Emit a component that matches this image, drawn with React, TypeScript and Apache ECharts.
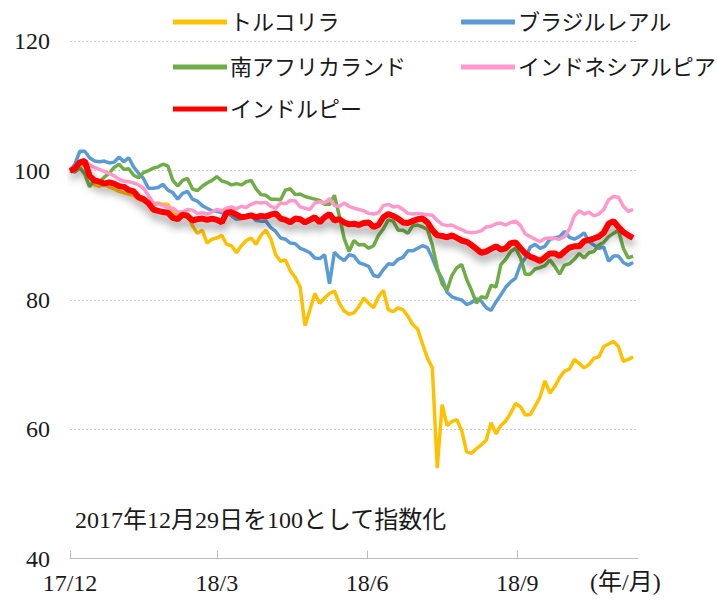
import React, { useEffect, useRef } from 'react';
import * as echarts from 'echarts';

// day offsets from 2017-12-29 (every 3 days)
const days = Array.from({ length: 116 }, (_, i) => i * 3);
const tickDays = [0, 90, 182, 274];
const tickLabels = ['17/12', '18/3', '18/6', '18/9'];

const seriesNames = ['トルコリラ', 'ブラジルレアル', '南アフリカランド', 'インドネシアルピア', 'インドルピー'];

const tryValues = [
  100, 100.3, 101.0, 100.8, 99.0, 97.8, 97.6, 97.9, 97.5, 97.2,
  96.8, 96.6, 96.4, 96.2, 95.6, 95.3, 95.0, 94.6, 95.0, 94.8,
  94.8, 93.4, 93.2, 93.6, 93.4, 91.5, 90.3, 90.8, 88.8, 89.4,
  89.6, 90.0, 88.6, 88.4, 87.3, 88.4, 89.2, 89.6, 88.6, 90.0,
  90.8, 89.5, 87.0, 86.0, 86.2, 84.5, 83.5, 82.0, 76.0, 78.5,
  81.0, 79.5, 80.3, 81.0, 81.4, 79.5, 78.3, 77.8, 78.0, 79.0,
  80.3, 79.5, 78.8, 80.5, 81.5, 78.5, 78.2, 78.8, 78.5, 77.5,
  76.2, 75.5, 73.2, 71.0, 69.5, 54.0, 63.8, 60.6, 61.2, 61.5,
  59.8, 56.5, 56.3, 57.0, 57.6, 58.3, 61.0, 59.3, 60.6, 61.3,
  62.5, 64.0, 63.5, 62.2, 62.3, 63.6, 65.0, 67.5, 65.6, 66.6,
  68.0, 69.0, 69.3, 70.8, 70.2, 69.5, 70.0, 71.0, 71.2, 72.8,
  73.2, 73.6, 72.8, 70.5, 70.8, 71.2,
];

const brlValues = [
  100, 101.0, 103.0, 103.0, 102.0, 101.5, 101.4, 101.5, 101.2, 101.3,
  102.1, 101.4, 102.0, 100.6, 99.6, 98.8, 97.3, 97.3, 97.4, 97.9,
  97.0, 96.6, 95.6, 96.5, 96.8, 95.6, 95.3, 94.6, 94.2, 93.8,
  93.7, 93.5, 93.6, 93.0, 92.5, 92.6, 93.1, 93.0, 92.3, 92.2,
  92.2, 91.2, 90.6, 89.6, 89.4, 88.8, 88.7, 88.0, 87.7, 87.3,
  86.5, 86.4, 87.0, 82.5, 87.4, 86.6, 86.1, 87.0, 86.8, 85.8,
  85.5, 85.2, 83.8, 83.6, 84.7, 85.6, 85.5, 86.3, 86.6, 87.6,
  87.6, 88.0, 88.4, 88.1, 86.5, 84.6, 83.3, 81.2, 80.5, 80.2,
  80.0, 79.3, 79.6, 80.2, 79.8, 78.8, 78.4, 79.7, 80.8, 82.0,
  82.8, 83.4, 85.5, 86.5, 88.2, 88.6, 88.0, 88.3, 89.4, 89.6,
  89.8, 90.6, 89.7, 89.4, 89.8, 90.4, 89.0, 88.5, 88.0, 88.2,
  86.0, 86.8, 86.8, 85.8, 85.4, 85.8,
];

const zarValues = [
  100, 99.8, 100.5, 99.5, 97.5, 98.6, 98.3, 99.0, 99.6, 100.5,
  101.0, 100.2, 100.3, 99.3, 98.9, 99.7, 100.0, 100.4, 100.6, 101.0,
  100.7, 98.5, 97.6, 98.5, 98.8, 97.2, 96.9, 97.6, 98.1, 98.5,
  99.1, 98.4, 98.2, 97.8, 98.0, 97.8, 98.3, 98.5, 97.2, 96.3,
  96.2, 95.6, 95.6, 95.5, 97.0, 97.2, 96.3, 96.4, 96.0, 95.8,
  95.6, 95.4, 94.8, 94.8, 96.2, 93.0, 89.5, 87.5, 89.2, 88.5,
  88.6, 88.0, 88.4, 90.0, 91.0, 92.4, 92.2, 90.8, 90.8, 90.3,
  91.5, 91.6, 91.3, 90.9, 88.5, 85.0, 82.5, 81.5, 83.8, 85.0,
  85.5, 83.2, 81.5, 79.5, 80.5, 80.3, 82.3, 82.0, 85.5, 86.3,
  87.5, 88.0, 86.5, 84.0, 84.0, 84.8, 85.0, 85.3, 86.2, 85.2,
  84.0, 85.4, 85.6, 86.3, 87.2, 86.5, 87.3, 87.5, 88.5, 88.9,
  89.8, 90.3, 90.8, 88.0, 86.5, 86.8,
];

const idrValues = [
  100, 100.4, 101.2, 101.5, 100.9, 100.5, 100.2, 99.9, 99.6, 99.2,
  98.7, 98.4, 98.3, 98.1, 97.8, 97.3, 96.2, 95.0, 94.9, 94.6,
  94.3, 94.2, 93.6, 93.6, 94.0, 93.9, 93.4, 93.5, 93.3, 93.6,
  94.0, 93.8, 94.2, 94.4, 94.1, 94.5, 94.3, 94.8, 95.1, 95.0,
  95.1, 94.5, 94.2, 95.0, 94.9, 95.4, 95.3, 94.4, 94.2, 94.0,
  95.0, 95.2, 95.0, 95.7, 94.6, 94.5, 95.0, 94.5, 94.2, 94.0,
  93.8, 93.4, 93.3, 93.5, 94.6, 94.8, 94.4, 94.5, 94.0, 93.4,
  93.3, 93.4, 93.3, 93.2, 93.1, 92.3, 91.7, 91.5, 91.6, 91.2,
  90.9, 90.5, 90.4, 90.5, 90.7, 91.3, 91.4, 91.8, 91.9, 91.6,
  92.0, 92.2, 91.5, 90.2, 89.8, 89.4, 89.0, 89.5, 89.6, 89.5,
  89.4, 89.8, 91.0, 93.0, 93.8, 93.3, 93.6, 93.0, 93.3, 94.0,
  95.5, 96.0, 95.9, 94.5, 93.7, 94.0,
];

const inrValues = [
  100, 100.3, 101.3, 101.5, 99.2, 98.5, 98.3, 98.0, 98.2, 98.0,
  97.6, 97.5, 97.0, 96.8, 95.9, 95.6, 95.0, 94.0, 93.8, 93.6,
  93.5, 92.7, 92.5, 93.2, 93.0, 92.3, 92.5, 92.6, 92.4, 92.6,
  92.4, 92.0, 93.5, 93.6, 93.2, 92.8, 92.9, 93.1, 92.8, 93.0,
  92.9, 93.2, 93.4, 92.6, 92.4, 92.0, 92.6, 92.5, 92.0, 92.4,
  92.8, 92.0, 92.8, 93.3, 92.3, 92.5, 92.0, 91.7, 91.8, 91.6,
  91.9, 92.0, 91.3, 91.6, 92.8, 93.3, 93.0, 92.6, 92.0, 91.9,
  92.2, 92.5, 92.6, 92.0, 90.8, 90.0, 89.9, 89.7, 90.0, 89.6,
  89.2, 89.0, 88.5, 87.9, 87.3, 87.5, 87.9, 88.3, 87.8, 88.0,
  88.8, 88.9, 88.0, 87.2, 86.7, 86.4, 86.0, 86.6, 87.2, 87.2,
  86.8, 87.5, 88.1, 88.3, 88.3, 89.1, 89.3, 89.5, 89.8, 90.4,
  91.8, 92.2, 91.3, 90.5, 90.0, 89.6,
];

const FONT = "'Liberation Serif', 'Noto Sans CJK JP', serif";
const TEXT_COLOR = '#1a1a1a';

const colors = ['#FFC000', '#5B9BD5', '#70AD47', '#FF99CC', '#FF0000'];
const valueSets = [tryValues, brlValues, zarValues, idrValues, inrValues];

const legendPos = [
  { left: 168, top: 6 },
  { left: 456, top: 6 },
  { left: 168, top: 51 },
  { left: 456, top: 51 },
  { left: 168, top: 93 },
];

export default function App() {
  const ref = useRef<HTMLDivElement>(null);

  useEffect(() => {
    if (!ref.current) return;
    const chart = echarts.init(ref.current, undefined, { renderer: 'svg' });

    const series = seriesNames.map((name, k) => ({
      name,
      type: 'line',
      showSymbol: false,
      symbol: 'none',
      silent: true,
      z: k === 4 ? 10 : 2 + k,
      data: days.map((d, i) => [d, valueSets[k][i]]),
      lineStyle:
        k === 4
          ? {
              color: colors[k],
              width: 6,
              shadowColor: 'rgba(0,0,0,0.4)',
              shadowBlur: 8,
              shadowOffsetX: 1,
              shadowOffsetY: 6,
            }
          : { color: colors[k], width: 3.5 },
      itemStyle: { color: colors[k] },
      emphasis: { disabled: true },
    }));

    const legends = seriesNames.map((name, k) => ({
      data: [name],
      left: legendPos[k].left,
      top: legendPos[k].top,
      icon: 'rect',
      itemWidth: 54,
      itemHeight: 5,
      selectedMode: false,
      textStyle: { fontSize: 22, fontFamily: FONT, color: TEXT_COLOR, padding: [0, 0, 0, -2] },
    }));

    chart.setOption({
      animation: false,
      backgroundColor: '#ffffff',
      grid: { left: 70, top: 41.4, width: 568, height: 517.2 },
      legend: legends,
      xAxis: {
        type: 'value',
        min: 0,
        max: 348,
        axisLine: { show: true, lineStyle: { color: '#BFBFBF', width: 1 } },
        axisTick: {
          show: true,
          customValues: tickDays,
          inside: true,
          length: 8,
          lineStyle: { color: '#BFBFBF' },
        },
        axisLabel: {
          customValues: tickDays,
          formatter: (v: number) => {
            const idx = tickDays.indexOf(v);
            return idx >= 0 ? tickLabels[idx] : '';
          },
          fontSize: 24,
          fontFamily: FONT,
          color: TEXT_COLOR,
          margin: 12,
        },
        splitLine: { show: false },
      },
      yAxis: {
        type: 'value',
        min: 40,
        max: 120,
        interval: 20,
        axisLine: { show: false },
        axisTick: { show: false },
        axisLabel: { fontSize: 24, fontFamily: FONT, color: TEXT_COLOR, margin: 20 },
        splitLine: { show: true, lineStyle: { color: '#D0D0D0', type: [2, 2], width: 1 } },
      },
      graphic: [
        {
          type: 'text',
          left: 75,
          top: 508,
          style: { text: '2017年12月29日を100として指数化', font: `24px ${FONT}`, fill: TEXT_COLOR },
        },
        {
          type: 'text',
          left: 590,
          top: 570,
          style: { text: '(年/月)', font: `24px ${FONT}`, fill: TEXT_COLOR },
        },
      ],
      series,
    });

    return () => chart.dispose();
  }, []);

  return (
    <div
      ref={ref}
      style={{ position: 'absolute', left: 0, top: 0, width: 717, height: 602 }}
    />
  );
}
